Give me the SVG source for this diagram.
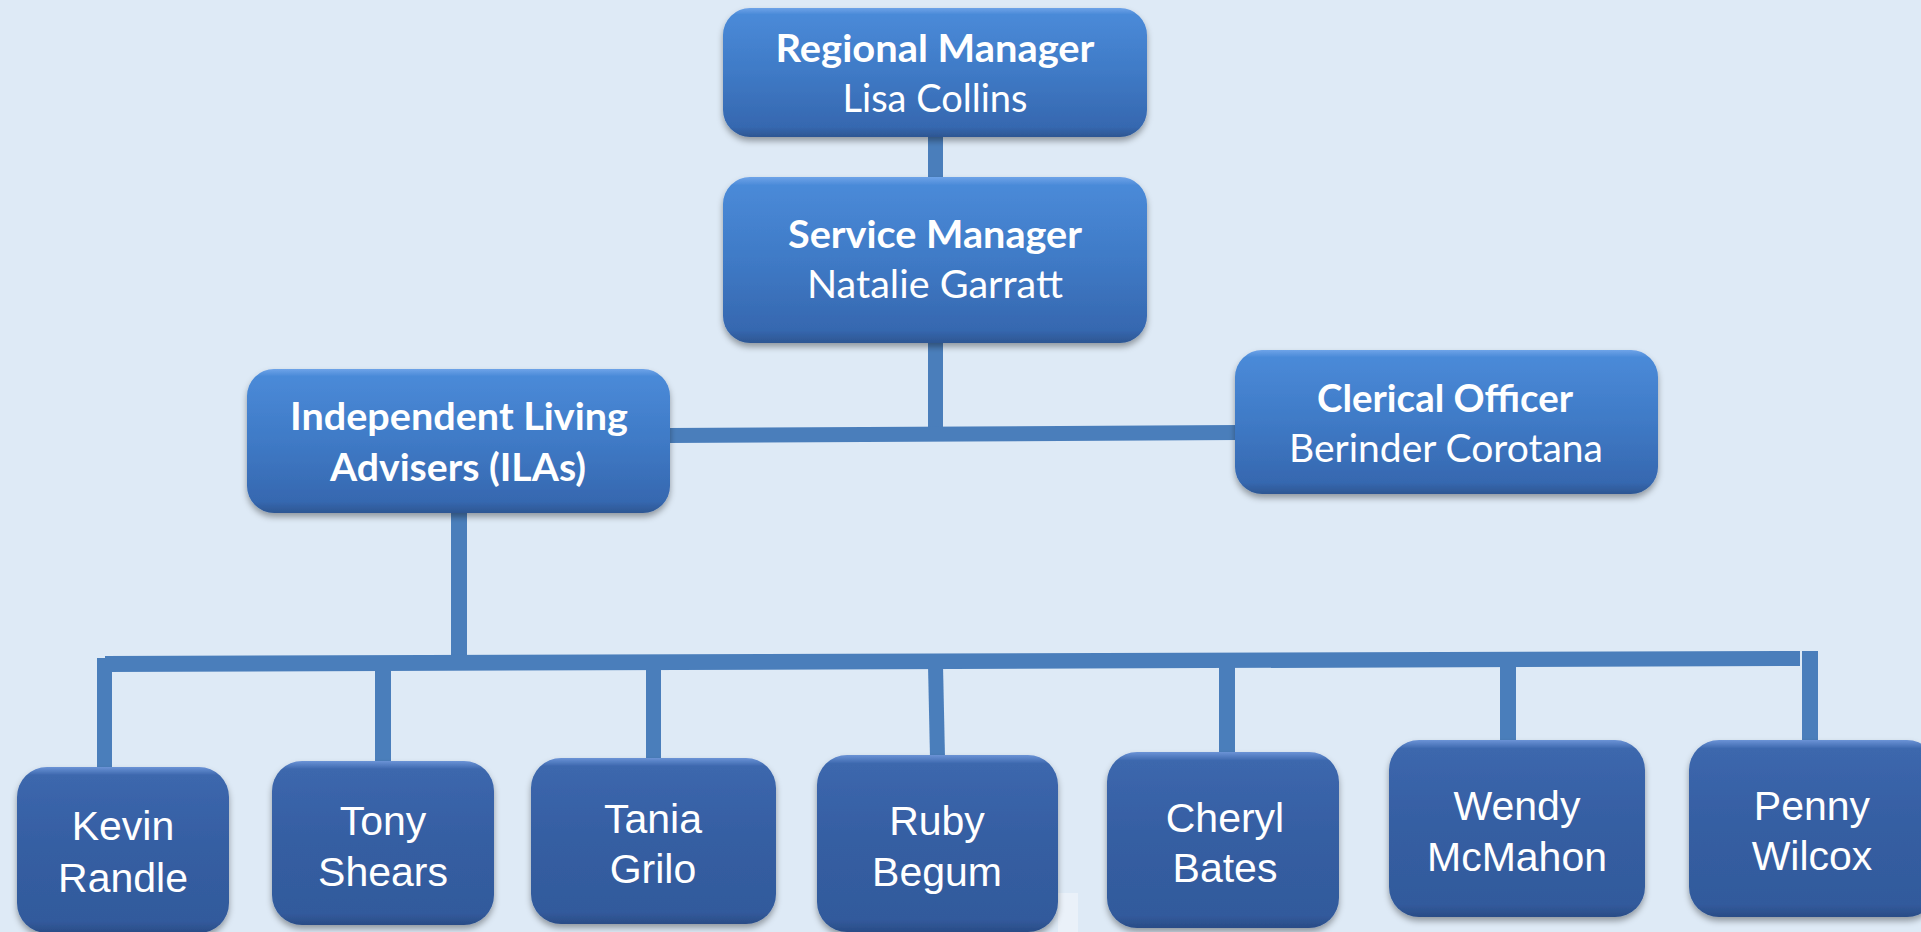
<svg xmlns="http://www.w3.org/2000/svg" width="1921" height="932" viewBox="0 0 1921 932">
<defs>
<linearGradient id="gTop" x1="0" y1="0" x2="0" y2="1">
<stop offset="0" stop-color="#6ea3e8"/>
<stop offset="0.05" stop-color="#4a8ad8"/>
<stop offset="0.5" stop-color="#3f7ac6"/>
<stop offset="0.92" stop-color="#3668b0"/>
<stop offset="1" stop-color="#2d5692"/>
</linearGradient>
<linearGradient id="gBot" x1="0" y1="0" x2="0" y2="1">
<stop offset="0" stop-color="#6b93d6"/>
<stop offset="0.05" stop-color="#3c67ad"/>
<stop offset="0.5" stop-color="#355ea2"/>
<stop offset="0.93" stop-color="#325a9c"/>
<stop offset="1" stop-color="#2a4c86"/>
</linearGradient>
<filter id="sh" x="-10%" y="-10%" width="120%" height="130%">
<feDropShadow dx="0" dy="4" stdDeviation="3" flood-color="#000" flood-opacity="0.35"/>
</filter>
</defs>
<style>
.top{fill:url(#gTop);filter:url(#sh);}
.bot{fill:url(#gBot);filter:url(#sh);}
.con{fill:#4a7ebb;}
.t{font-family:Lato,"Open Sans","Noto Sans",sans-serif;font-size:38px;fill:#fff;text-anchor:middle;}
.b{font-weight:bold;}
.n{font-family:"Liberation Sans",Arial,sans-serif;font-size:41px;fill:#fff;text-anchor:middle;}
</style>
<rect width="1921" height="932" fill="#deeaf6"/>
<rect x="1058" y="893" width="20" height="39" fill="#eaf1f9"/>
<g id="connectors">
<rect class="con" x="928" y="132" width="15" height="48"/>
<rect class="con" x="928" y="338" width="15" height="92"/>
<polygon class="con" points="668,428 1238,425 1238,440 668,443"/>
<rect class="con" x="451" y="508" width="16" height="152"/>
<polygon class="con" points="105,656 1800,651 1800,666 105,672"/>
<rect class="con" x="97" y="658" width="15" height="112"/>
<rect class="con" x="375" y="665" width="16" height="99"/>
<rect class="con" x="646" y="665" width="15" height="96"/>
<polygon class="con" points="928,665 943,665 945,758 930,758"/>
<rect class="con" x="1219" y="663" width="16" height="92"/>
<rect class="con" x="1500" y="660" width="16" height="83"/>
<rect class="con" x="1802" y="651" width="16" height="92"/>
</g>
<g id="regional">
<rect class="top" x="723" y="8" width="424" height="129" rx="27"/>
<text class="t b" x="935" y="62" textLength="319" lengthAdjust="spacingAndGlyphs">Regional Manager</text>
<text class="t" x="935" y="112" textLength="185" lengthAdjust="spacingAndGlyphs">Lisa Collins</text>
</g>
<g id="service">
<rect class="top" x="723" y="177" width="424" height="166" rx="27"/>
<text class="t b" x="935" y="248" textLength="294" lengthAdjust="spacingAndGlyphs">Service Manager</text>
<text class="t" x="935" y="298" textLength="256" lengthAdjust="spacingAndGlyphs">Natalie Garratt</text>
</g>
<g id="ila">
<rect class="top" x="247" y="369" width="423" height="144" rx="27"/>
<text class="t b" x="459" y="430" textLength="338" lengthAdjust="spacingAndGlyphs">Independent Living</text>
<text class="t b" x="458" y="481" textLength="256" lengthAdjust="spacingAndGlyphs">Advisers (ILAs)</text>
</g>
<g id="clerical">
<rect class="top" x="1235" y="350" width="423" height="144" rx="27"/>
<text class="t b" x="1445" y="412" textLength="256" lengthAdjust="spacingAndGlyphs">Clerical Officer</text>
<text class="t" x="1446" y="462" textLength="314" lengthAdjust="spacingAndGlyphs">Berinder Corotana</text>
</g>
<g id="kevin">
<rect class="bot" x="17" y="767" width="212" height="166" rx="30"/>
<text class="n" x="123" y="840">Kevin</text>
<text class="n" x="123" y="892">Randle</text>
</g>
<g id="tony">
<rect class="bot" x="272" y="761" width="222" height="164" rx="30"/>
<text class="n" x="383" y="835">Tony</text>
<text class="n" x="383" y="886">Shears</text>
</g>
<g id="tania">
<rect class="bot" x="531" y="758" width="245" height="166" rx="30"/>
<text class="n" x="653" y="833">Tania</text>
<text class="n" x="653" y="883">Grilo</text>
</g>
<g id="ruby">
<rect class="bot" x="817" y="755" width="241" height="177" rx="30"/>
<text class="n" x="937" y="835">Ruby</text>
<text class="n" x="937" y="886">Begum</text>
</g>
<g id="cheryl">
<rect class="bot" x="1107" y="752" width="232" height="176" rx="30"/>
<text class="n" x="1225" y="832">Cheryl</text>
<text class="n" x="1225" y="882">Bates</text>
</g>
<g id="wendy">
<rect class="bot" x="1389" y="740" width="256" height="177" rx="30"/>
<text class="n" x="1517" y="820">Wendy</text>
<text class="n" x="1517" y="871">McMahon</text>
</g>
<g id="penny">
<rect class="bot" x="1689" y="740" width="248" height="177" rx="30"/>
<text class="n" x="1812" y="820">Penny</text>
<text class="n" x="1812" y="870">Wilcox</text>
</g>
</svg>
